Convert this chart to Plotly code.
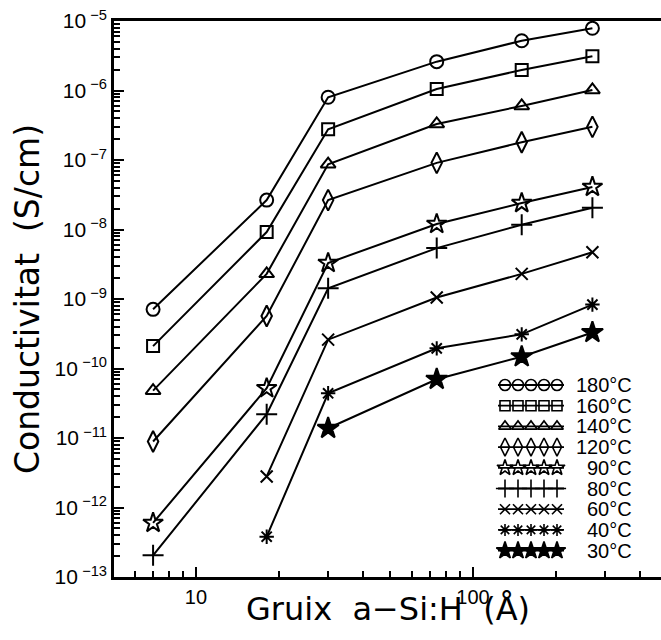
import plotly.graph_objects as go

# ---- data ----
thickness = [7, 18, 30, 74, 150, 270]  # Gruix a-Si:H (Å)
temps = ["180°C", "160°C", "140°C", "120°C", "90°C", "80°C", "60°C", "40°C", "30°C"]
s180 = [7.1e-10, 2.65e-8, 8.0e-7, 2.6e-6, 5.2e-6, 7.85e-6]
s160 = [2.1e-10, 9.2e-9, 2.77e-7, 1.05e-6, 1.97e-6, 3.1e-6]
s140 = [4.8e-11, 2.3e-9, 8.7e-8, 3.3e-7, 6.0e-7, 1.02e-6]
s120 = [8.9e-12, 5.7e-10, 2.65e-8, 9.1e-8, 1.8e-7, 3.0e-7]
s90 = [6.0e-13, 5.2e-11, 3.3e-9, 1.2e-8, 2.4e-8, 4.1e-8]
s80 = [2.05e-13, 2.2e-11, 1.43e-9, 5.4e-9, 1.17e-8, 2.06e-8]
s60 = [None, 2.8e-12, 2.6e-10, 1.05e-9, 2.3e-9, 4.7e-9]
s40 = [None, 3.8e-13, 4.4e-11, 1.95e-10, 3.1e-10, 8.3e-10]
s30 = [None, None, 1.38e-11, 7.0e-11, 1.48e-10, 3.3e-10]
series = [s180, s160, s140, s120, s90, s80, s60, s40, s30]

y_tick_vals = [10.0 ** e for e in range(-13, -4)]
y_tick_text = ["10\u2009<sup>\u2212%d</sup>" % (-e) for e in range(-13, -4)]
x_tick_vals = [10, 100]
x_tick_text = ["10", "100"]

# ---- styles ----
symbols = ["circle-open", "square-open", "triangle-up-open", "diamond-tall-open",
           "star-open", "cross-thin-open", "x-thin-open", "asterisk-open", "star"]
sizes = [13, 12, 13, 15, 15, 15, 12, 12, 16]
leg_sizes = [11, 10, 11, 13, 12, 13, 10, 10, 13]
FONT = "Liberation Sans"
TFONT = "DejaVu Sans"

fig = go.Figure()
for name, ys, sym, sz in zip(temps, series, symbols, sizes):
    xs = [x for x, y in zip(thickness, ys) if y is not None]
    yv = [y for y in ys if y is not None]
    fig.add_trace(go.Scatter(
        x=xs, y=yv, name=name, mode="lines+markers",
        line=dict(color="black", width=2),
        marker=dict(symbol=sym, size=sz, color="black",
                    line=dict(color="black", width=2)),
        showlegend=False, xaxis="x", yaxis="y"))

# custom legend (5 repeated symbols per row), drawn on a pixel-like overlay axis
leg_x = [505, 518, 531, 544, 557]
for i, (name, sym, sz) in enumerate(zip(temps, symbols, leg_sizes)):
    yrow = 385 + i * 20.7
    fig.add_trace(go.Scatter(
        x=[498, 564], y=[yrow, yrow], mode="lines",
        line=dict(color="black", width=1.8), showlegend=False,
        xaxis="x2", yaxis="y2", hoverinfo="skip"))
    fig.add_trace(go.Scatter(
        x=leg_x, y=[yrow] * 5, mode="markers",
        marker=dict(symbol=sym, size=sz, color="black",
                    line=dict(color="black", width=1.6)),
        showlegend=False, xaxis="x2", yaxis="y2", hoverinfo="skip"))
    fig.add_annotation(x=634, y=yrow, xref="x2", yref="y2", text=name,
                       showarrow=False, xanchor="right", yanchor="middle",
                       font=dict(family=FONT, size=20, color="black"))

# x-axis title placed at the reference height (overlapping the tick-label row)
fig.add_annotation(x=0.5, y=-0.058, xref="paper", yref="paper",
                   text="Gruix  a\u2212Si:H  (Å)", showarrow=False,
                   xanchor="center", yanchor="middle",
                   font=dict(family=TFONT, size=32, color="black"))

x_minor = [5, 6, 7, 8, 9, 20, 30, 40, 50, 60, 70, 80, 90, 200, 300, 400]
y_minor = [k * 10.0 ** e for e in range(-13, -5) for k in range(2, 10)]

fig.update_layout(
    width=661, height=640,
    margin=dict(l=114, r=0, t=21, b=63),
    paper_bgcolor="white", plot_bgcolor="white",
    font=dict(family=FONT, color="black"),
    xaxis=dict(type="log", range=[0.704, 2.679], showgrid=False, zeroline=False,
               showline=True, linewidth=2.5, linecolor="black", mirror=True,
               tickmode="array", tickvals=x_tick_vals, ticktext=x_tick_text,
               ticks="inside", ticklen=10, tickwidth=1.5, tickcolor="black",
               ticklabelstandoff=0,
               minor=dict(tickmode="array", tickvals=x_minor, ticks="inside",
                          ticklen=6, tickwidth=1.5, tickcolor="black", showgrid=False),
               tickfont=dict(family=FONT, size=20)),
    yaxis=dict(type="log", range=[-13, -5], showgrid=False, zeroline=False,
               showline=True, linewidth=2.5, linecolor="black", mirror=False,
               tickmode="array", tickvals=y_tick_vals, ticktext=y_tick_text,
               ticks="inside", ticklen=10, tickwidth=2, tickcolor="black",
               ticklabelstandoff=0,
               minor=dict(tickmode="array", tickvals=y_minor, ticks="inside",
                          ticklen=6, tickwidth=1.5, tickcolor="black", showgrid=False),
               tickfont=dict(family=FONT, size=21),
               title=dict(text="Conductivitat  (S/cm)", font=dict(family=TFONT, size=33),
                          standoff=6)),
    xaxis2=dict(overlaying="x", anchor="y2", range=[114, 661], visible=False),
    yaxis2=dict(overlaying="y", anchor="x2", range=[577, 21], visible=False),
)

fig.write_html("out.html")
